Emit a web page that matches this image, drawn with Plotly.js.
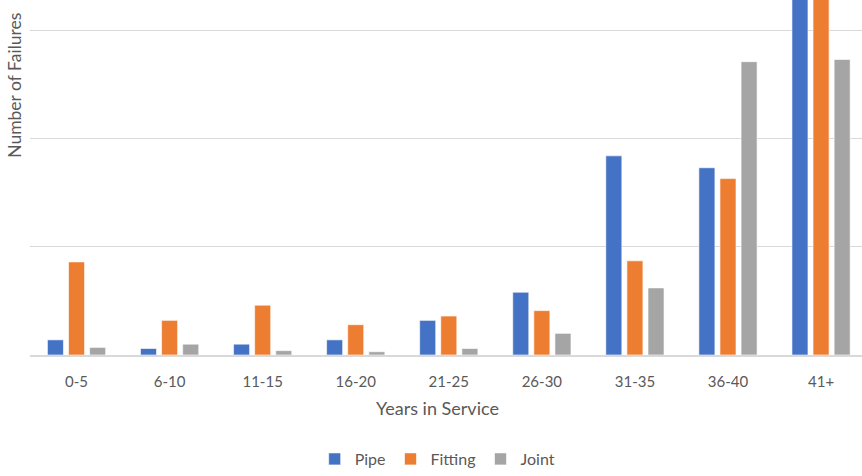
<!DOCTYPE html>
<html>
<head>
<meta charset="utf-8">
<script src="https://cdn.plot.ly/plotly-3.0.1.min.js"></script>
<style>html,body{margin:0;padding:0;background:#fff;}#chart{width:862px;height:476px;}</style>
</head>
<body>
<div id="chart"></div>
<script>
const categories = ['0-5','6-10','11-15','16-20','21-25','26-30','31-35','36-40','41+'];
const pipe    = [14, 6, 10, 14, 32, 58, 184, 173, 345];
const fitting = [86, 32, 46, 28, 36, 41, 87, 163, 340];
const joint   = [7, 10, 4, 3, 6, 20, 62, 271, 273];
const seriesNames = ['Pipe','Fitting','Joint'];
const colors = ['#4472C4','#ED7D31','#A5A5A5'];

const FONT = 'Lato, "Open Sans", sans-serif';
const data = [pipe, fitting, joint].map((vals, i) => ({
  type: 'bar',
  name: seriesNames[i],
  x: categories,
  y: vals,
  marker: {color: colors[i], line: {color: 'rgba(255,255,255,0.6)', width: 1}},
  hoverinfo: 'x+y+name'
}));

const layout = {
  width: 862, height: 476,
  margin: {l: 30, r: 0, t: 0, b: 120},
  paper_bgcolor: '#fff', plot_bgcolor: '#fff',
  font: {family: FONT, color: '#595959', size: 15},
  barmode: 'group',
  bargap: 0.32,
  bargroupgap: 0.24,
  showlegend: true,
  legend: {orientation: 'h', x: 0.49, xanchor: 'center', y: -0.292, yanchor: 'middle',
           font: {family: FONT, size: 16, color: '#595959'}, itemwidth: 30, traceorder: 'normal'},
  xaxis: {
    type: 'category',
    range: [-0.5, 8.44],
    showgrid: false,
    showline: true, linecolor: '#D9D9D9', linewidth: 1.5,
    ticks: 'outside', ticklen: 12, tickcolor: 'rgba(0,0,0,0)',
    tickfont: {family: FONT, size: 15, color: '#595959'},
    zeroline: false
  },
  yaxis: {
    range: [0, 328],
    dtick: 100, tick0: 0,
    showticklabels: false,
    showgrid: true, gridcolor: '#D9D9D9', gridwidth: 1,
    zeroline: false, showline: false, ticks: ''
  },
  annotations: [
    {text: 'Years in Service', xref: 'paper', yref: 'paper', x: 0.49, y: -0.148, xanchor: 'center', yanchor: 'middle',
     showarrow: false, font: {family: FONT, size: 18, color: '#595959'}},
    {text: 'Number of Failures', xref: 'paper', yref: 'paper', x: -0.0185, y: 0.76, xanchor: 'center', yanchor: 'middle',
     textangle: -90, showarrow: false, font: {family: FONT, size: 17.5, color: '#595959'}}
  ]
};

Plotly.newPlot('chart', data, layout, {displayModeBar: false, staticPlot: true});
</script>
</body>
</html>
